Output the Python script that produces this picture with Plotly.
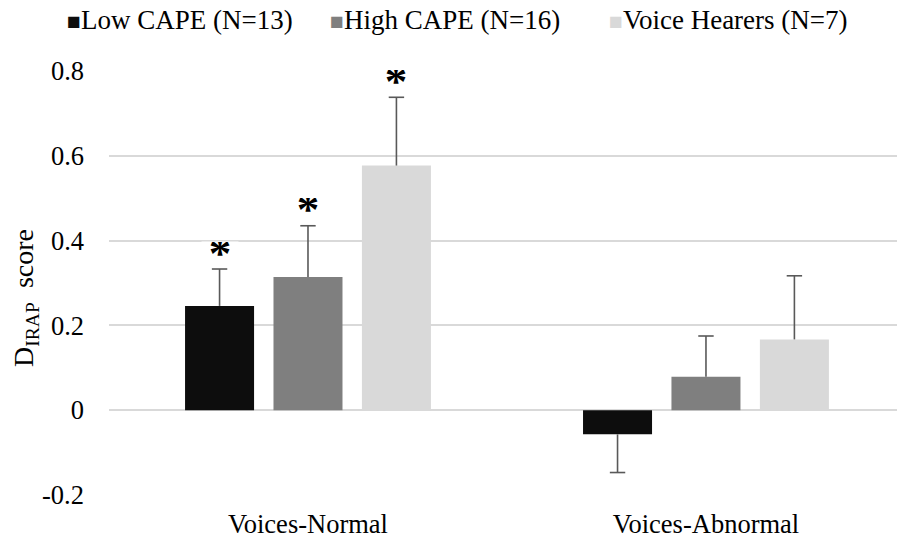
import plotly.graph_objects as go

# D-IRAP scores per trial type and group (means with standard errors)
categories = ["Voices-Normal", "Voices-Abnormal"]
series_names = ["Low CAPE (N=13)", "High CAPE (N=16)", "Voice Hearers (N=7)"]
low_cape = [0.246, -0.057]
high_cape = [0.314, 0.079]
voice_hearers = [0.577, 0.167]
low_cape_se = [0.087, 0.090]
high_cape_se = [0.121, 0.096]
voice_hearers_se = [0.161, 0.150]
# groups marked as significantly different from zero
significant = [[True, False], [True, False], [True, False]]

y_ticks = [-0.2, 0, 0.2, 0.4, 0.6, 0.8]
y_tick_labels = ["-0.2", "0", "0.2", "0.4", "0.6", "0.8"]

colors = ["#0d0d0d", "#7f7f7f", "#d9d9d9"]
err_color = "#595959"
offsets = [-0.2222, 0.0, 0.2222]
bar_width = 0.1734
font_family = "Liberation Serif"
text_size = 26.5

# layout geometry (pixels)
W, H = 897, 545
M_L, M_R, M_T, M_B = 109, 0, 71, 50
plot_w = W - M_L - M_R
plot_h = H - M_T - M_B
legend_left_px = [65, 328, 607]
legend_center_y_px = 20

values = [low_cape, high_cape, voice_hearers]
errors = [low_cape_se, high_cape_se, voice_hearers_se]

fig = go.Figure()
annotations = []
for i, name in enumerate(series_names):
    xs = [k + offsets[i] for k in range(len(categories))]
    vals = values[i]
    errs = errors[i]
    up = [e if v >= 0 else 0 for v, e in zip(vals, errs)]
    down = [e if v < 0 else 0 for v, e in zip(vals, errs)]
    fig.add_trace(go.Bar(
        x=xs, y=vals, width=bar_width, name=name, showlegend=False,
        marker=dict(color=colors[i], line=dict(width=0)),
        error_y=dict(type="data", symmetric=False, array=up, arrayminus=down,
                     color=err_color, thickness=1.6, width=0),
        hoverinfo="skip",
    ))
    # whisker caps at the outer end of each error bar
    ends = [v + e if v >= 0 else v - e for v, e in zip(vals, errs)]
    fig.add_trace(go.Scatter(
        x=xs, y=ends, mode="markers", showlegend=False, hoverinfo="skip",
        marker=dict(symbol="line-ew", size=11, color=err_color,
                    line=dict(color=err_color, width=1.6)),
    ))
    for k, (x, yend) in enumerate(zip(xs, ends)):
        if significant[i][k]:
            annotations.append(dict(
                x=x, y=yend, xref="x", yref="y", text="<b>*</b>",
                showarrow=False, yanchor="middle", yshift=16.5,
                width=36, height=22, valign="middle",
                font=dict(family=font_family, size=45, color="#000000"),
                bgcolor="white", borderpad=0,
            ))
    # legend entry: coloured square followed by the series name
    annotations.append(dict(
        x=(legend_left_px[i] - M_L) / plot_w,
        y=1 + (M_T - legend_center_y_px) / plot_h,
        xref="paper", yref="paper", xanchor="left", yanchor="middle",
        showarrow=False,
        text=(f'<span style="color:{colors[i]};font-size:23px">■</span>'
              f'{name}'),
        font=dict(family=font_family, size=27, color="#000000"),
    ))

annotations.append(dict(
    x=(25 - M_L) / plot_w, y=(H - M_B - 298) / plot_h,
    xref="paper", yref="paper",
    text="D<sub>IRAP</sub>  score", textangle=-90, showarrow=False,
    xanchor="center", yanchor="middle",
    font=dict(family=font_family, size=28, color="#000000"),
))

fig.update_layout(
    width=W, height=H,
    margin=dict(l=M_L, r=M_R, t=M_T, b=M_B),
    paper_bgcolor="white", plot_bgcolor="white",
    barmode="overlay",
    font=dict(family=font_family, color="#000000"),
    showlegend=False,
    annotations=annotations,
)
fig.update_xaxes(
    range=[-0.5, 1.48], tickvals=list(range(len(categories))), ticktext=categories,
    showgrid=False, zeroline=False, showline=False, ticks="",
    ticklabelstandoff=10,
    tickfont=dict(family=font_family, size=text_size, color="#000000"),
)
fig.update_yaxes(
    range=[-0.2, 0.8], tickvals=y_ticks, ticktext=y_tick_labels,
    showgrid=True, gridcolor="#d9d9d9", gridwidth=1.5,
    zeroline=False, showline=False, ticks="", ticklabelstandoff=24,
    tickfont=dict(family=font_family, size=text_size, color="#000000"),
)

fig.write_html("out.html")
